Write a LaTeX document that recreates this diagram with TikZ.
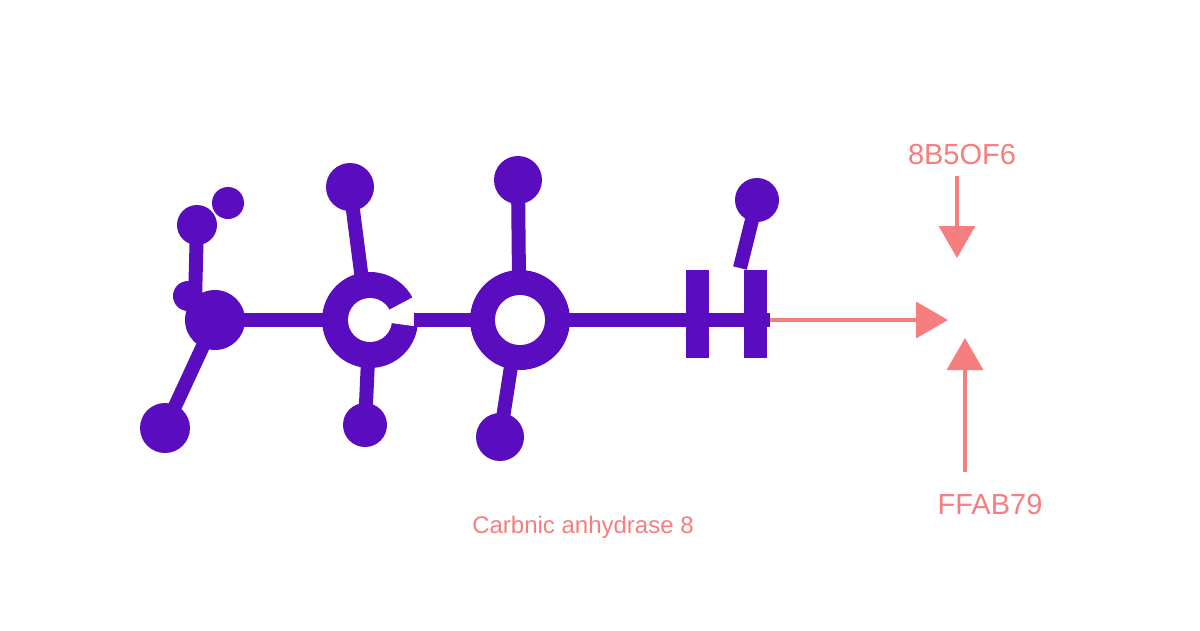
\documentclass[tikz,border=0pt]{standalone}
\usepackage{fontspec}
\setmainfont{Liberation Sans}
\usetikzlibrary{arrows.meta}
\definecolor{pur}{HTML}{5A0DBE}
\definecolor{pk}{HTML}{F77E7E}
\begin{document}
\begin{tikzpicture}[x=1pt,y=-1pt,
  bond/.style={pur,line width=14pt},
  atom/.style={circle,fill=pur,inner sep=0pt},
  parrow/.style={pk,line width=3.5pt,-{Triangle[length=32pt,width=36pt]}},
  lbl/.style={pk,font=\fontsize{29}{30}\selectfont}]
\useasboundingbox (0,0) rectangle (1200,630);
\fill[white] (0,0) rectangle (1200,630);
% atoms
\node[atom,minimum size=60pt] (a0) at (215,320) {};
\node[atom,minimum size=30pt] (a1) at (188,296) {};
\node[atom,minimum size=40pt] (a2) at (197,225) {};
\node[atom,minimum size=32pt] (a3) at (228,203) {};
\node[atom,minimum size=50pt] (a4) at (165,428) {};
\node[circle,minimum size=100pt] (r1) at (370,320) {};
\node[circle,minimum size=100pt] (r2) at (520,320) {};
\node[atom,minimum size=48pt] (u1) at (350,187) {};
\node[atom,minimum size=44pt] (d1) at (365,425) {};
\node[atom,minimum size=48pt] (u2) at (518,180) {};
\node[atom,minimum size=48pt] (d2) at (500,437) {};
\node[atom,minimum size=44pt] (u3) at (757,200) {};
\coordinate (end) at (770,320);
% bonds
\draw[bond] (a0.center) -- (r1.center);
\draw[bond] (a2.center) -- (195,300);
\draw[bond] (a0.center) -- (a4.center);
\draw[bond] (u1.center) -- (362,280);
\draw[bond] (368,360) -- (d1.center);
\draw[bond] (u2.center) -- (519,280);
\draw[bond] (512,360) -- (d2.center);
\draw[bond] (u3.center) -- (740,268);
% H bars
\fill[pur] (686,270) rectangle (709,358);
\fill[pur] (744,270) rectangle (767,358);
% rings
\fill[pur] (r1.center) circle (48);
\fill[white] (r1.center) circle (22);
\fill[white] (r1.center) -- ++(8:60) arc (8:-28:60) -- cycle;
\draw[bond] (r1.east) ++(-6,0) -- (r2.center);
\draw[bond] (r2.center) -- (end);
\fill[pur] (r2.center) circle (50);
\fill[white] (r2.center) circle (25);
% pink arrows
\draw[parrow] (end) -- (948,320);
\node[lbl] (t1) at (962,155) {8B5OF6};
\node[lbl] (t2) at (990,505) {FFAB79};
\draw[parrow] (957,176) -- (957,258);
\draw[parrow] (965,472) -- (965,338);
\node[pk,font=\fontsize{24}{26}\selectfont] (cap) at (583,527) {Carbnic anhydrase 8};
\end{tikzpicture}
\end{document}
